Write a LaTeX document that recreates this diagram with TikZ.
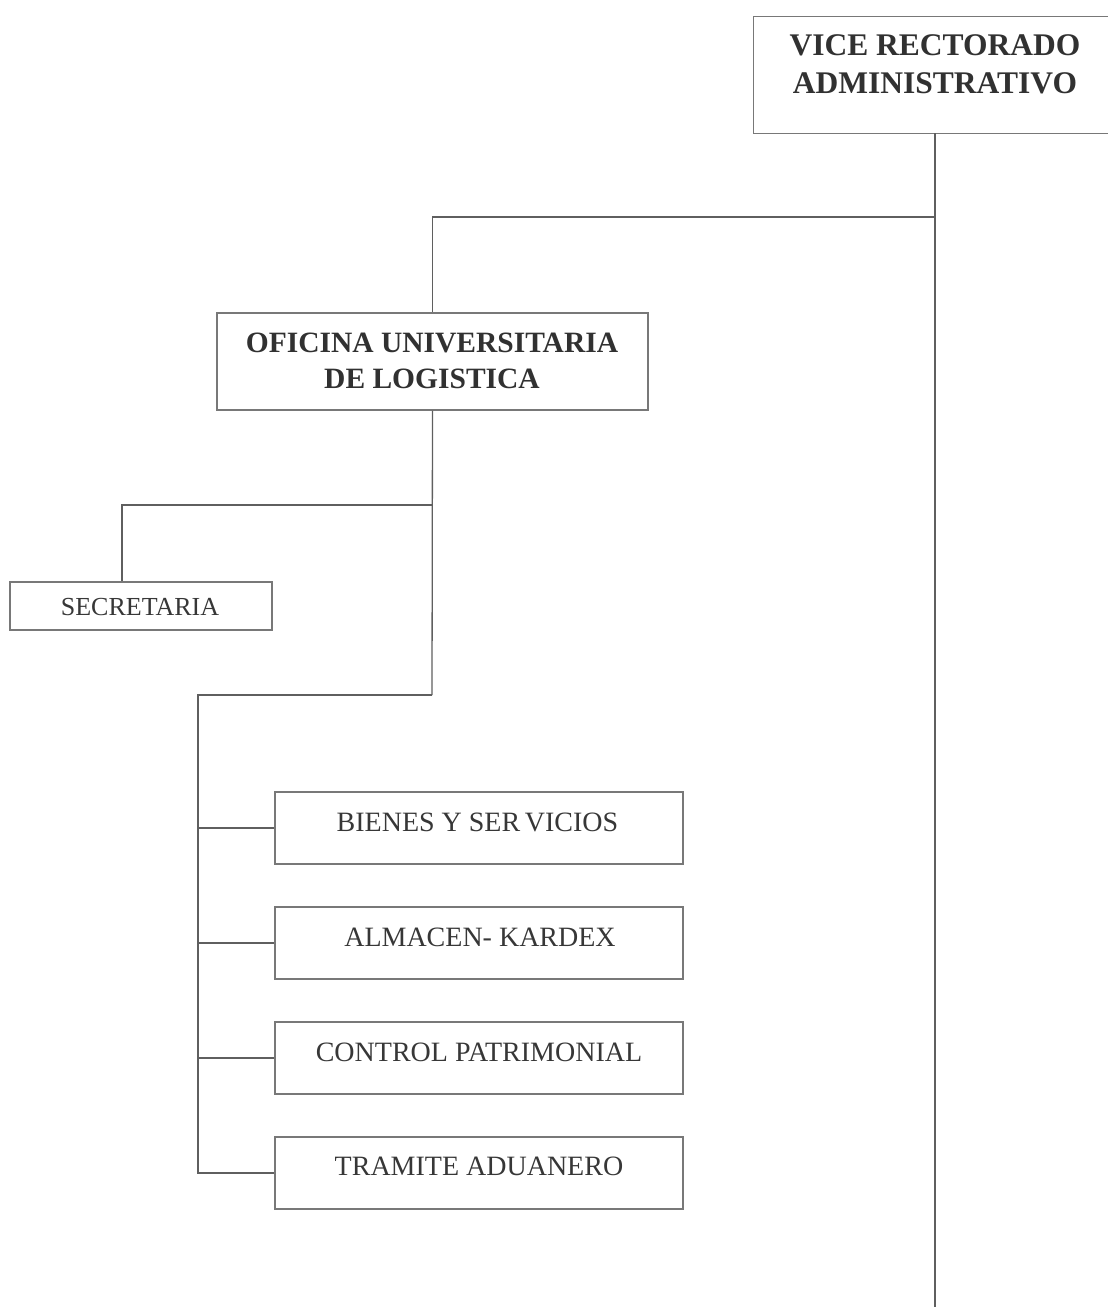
\documentclass[tikz,border=0pt]{standalone}
\usepackage{fontspec}
\setmainfont{Liberation Serif}
\usetikzlibrary{calc}
\definecolor{boxline}{RGB}{120,120,120}
\definecolor{conline}{RGB}{95,95,95}
\definecolor{txt}{RGB}{55,55,55}
\begin{document}
\begin{tikzpicture}[x=1pt,y=-1pt,
  box/.style={draw=boxline,line width=1.3pt,inner sep=0pt,rectangle},
  openbox/.style={draw=none,inner sep=0pt,rectangle},
  boxedge/.style={draw=boxline,line width=1.3pt},
  con/.style={draw=conline,line width=1.3pt},
  btxt/.style={font=\fontsize{29.5}{36}\selectfont\bfseries,text=txt!90!black,align=center,inner sep=0pt},
  rtxt/.style={font=\fontsize{28}{34}\selectfont,text=txt,inner sep=0pt},
  stxt/.style={font=\fontsize{26}{30}\selectfont,text=txt,inner sep=0pt}]
\useasboundingbox (0,0) rectangle (1108,1307);
% boxes
\node[openbox,minimum width=356pt,minimum height=116pt] (vr) at (932,75) {};
\draw[boxedge] (vr.north east) -- (vr.north west) -- (vr.south west) -- (vr.south east);
\node[btxt,font=\fontsize{31.5}{38}\selectfont\bfseries] at (935,45) {VICE RECTORADO};
\node[btxt,font=\fontsize{31.5}{38}\selectfont\bfseries] at (935,83) {ADMINISTRATIVO};
\node[box,minimum width=431pt,minimum height=97pt] (ofi) at (432.5,361.5) {};
\node[btxt] at (432,343) {OFICINA UNIVERSITARIA};
\node[btxt] at (432,379) {DE LOGISTICA};
\node[box,minimum width=262pt,minimum height=48pt] (sec) at (141,606) {};
\node[stxt] at (140,607) {SECRETARIA};
\node[box,minimum width=408pt,minimum height=72pt] (ben) at (479,828) {};
\node[rtxt] at (477.5,822) {BIENES Y SER\,VICIOS};
\node[box,minimum width=408pt,minimum height=72pt] (alm) at (479,943) {};
\node[rtxt] at (480,937) {ALMACEN- KARDEX};
\node[box,minimum width=408pt,minimum height=72pt] (con) at (479,1058) {};
\node[rtxt] at (479,1052) {CONTROL PATRIMONIAL};
\node[box,minimum width=408pt,minimum height=72pt] (tra) at (479,1173) {};
\node[rtxt] at (479,1166) {TRAMITE ADUANERO};
% junction coordinates
\coordinate (vbot) at (935,1307);
\coordinate (j1) at (935,217);
\coordinate (j2) at (432,505);
\coordinate (j3) at (432,695);
\coordinate (j4) at (198,695);
\coordinate (secin) at ($(sec.north)+(-19,0)$);
% connectors
\draw[con] (vr.south -| vbot) -- (vbot);
\draw[con] (j1) -| (ofi.north);
\draw[con] (ofi.south) -- (j3);
\draw[con] (j2) -| (secin);
\draw[con] (j3) -- (j4) |- (tra.west);
\draw[con] (ben.west -| j4) -- (ben.west);
\draw[con] (alm.west -| j4) -- (alm.west);
\draw[con] (con.west -| j4) -- (con.west);
\end{tikzpicture}
\end{document}
